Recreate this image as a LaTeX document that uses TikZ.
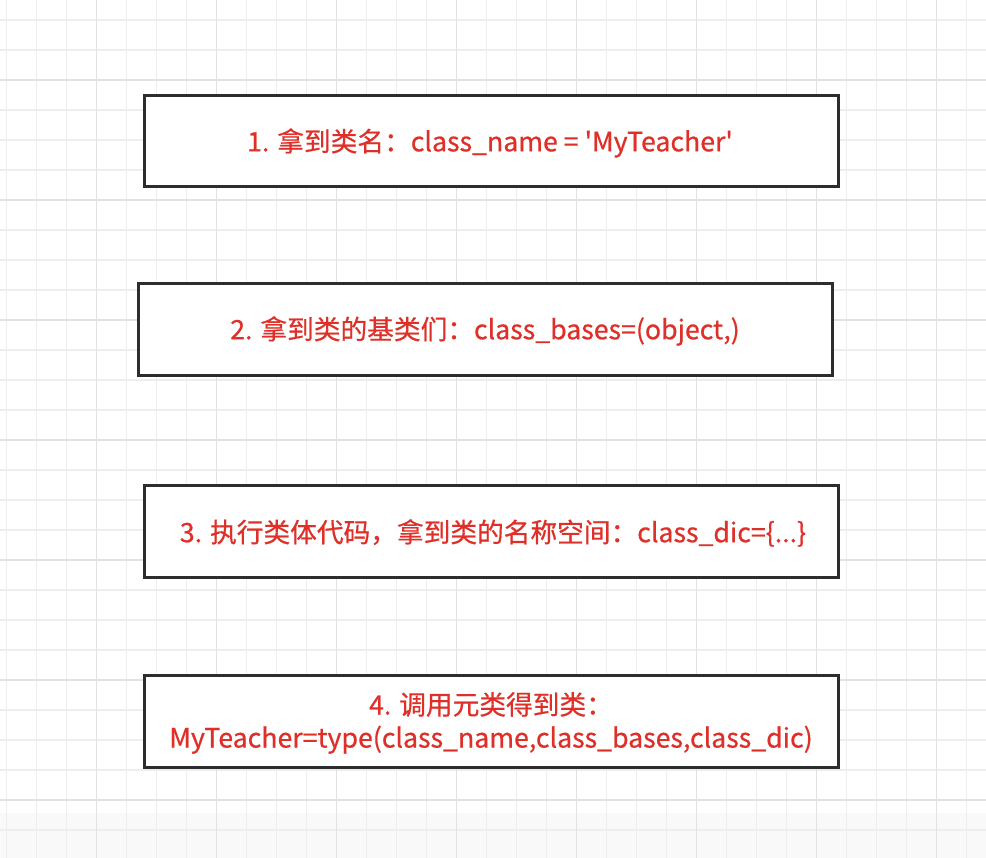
\documentclass[tikz,border=0pt]{standalone}
\usepackage{fontspec}
\setmainfont{Noto Sans CJK SC}
\newfontfamily\medfont[FakeBold=0.6]{Noto Sans CJK SC}
\definecolor{txtred}{RGB}{222,48,40}
\definecolor{gridminor}{RGB}{238,238,238}
\definecolor{gridmajor}{RGB}{226,226,226}
\definecolor{boxline}{RGB}{45,45,45}
\newcommand{\sq}{{\char"0027}}
\tikzset{
  stepbox/.style={draw=boxline, line width=3pt, fill=white},
  steptext/.style={text=txtred, font=\medfont\fontsize{26.7}{33}\selectfont, align=center}
}
\begin{document}
\begin{tikzpicture}[x=1pt,y=1pt]
\useasboundingbox (0,0) rectangle (986,858);
\fill[white] (0,0) rectangle (986,858);
\fill[black!2.5] (0,0) rectangle (986,45);
% grid (pixel coordinates flipped: y = 858 - py)
\foreach \k in {0,...,33} {
  \draw[gridminor, line width=1.2pt] (6.7+30*\k,0) -- (6.7+30*\k,858);
}
\foreach \k in {0,...,28} {
  \draw[gridminor, line width=1.2pt] (0,858-20-30*\k) -- (986,858-20-30*\k);
}
\foreach \k in {0,...,7} {
  \draw[gridmajor, line width=1.4pt] (96.7+120*\k,0) -- (96.7+120*\k,858);
}
\foreach \k in {0,...,6} {
  \draw[gridmajor, line width=1.4pt] (0,858-80-120*\k) -- (986,858-80-120*\k);
}
% boxes
\draw[stepbox] (144,858-96) rectangle (838,858-187);
\draw[stepbox] (138,858-284) rectangle (832,858-376);
\draw[stepbox] (144,858-486) rectangle (838,858-578);
\draw[stepbox] (144,858-676) rectangle (838,858-768);
\node[steptext] (t1) at (490,858-143) {1. 拿到类名：class\_name = \sq MyTeacher\sq};
\node[steptext] (t2) at (485,858-331) {2. 拿到类的基类们：class\_bases=(object,)};
\node[steptext] (t3) at (493,858-533) {3. 执行类体代码，拿到类的名称空间：class\_dic=\{...\}};
\node[steptext] (t4) at (491,858-723) {4. 调用元类得到类：\\MyTeacher=type(class\_name,class\_bases,class\_dic)};
\end{tikzpicture}
\end{document}
